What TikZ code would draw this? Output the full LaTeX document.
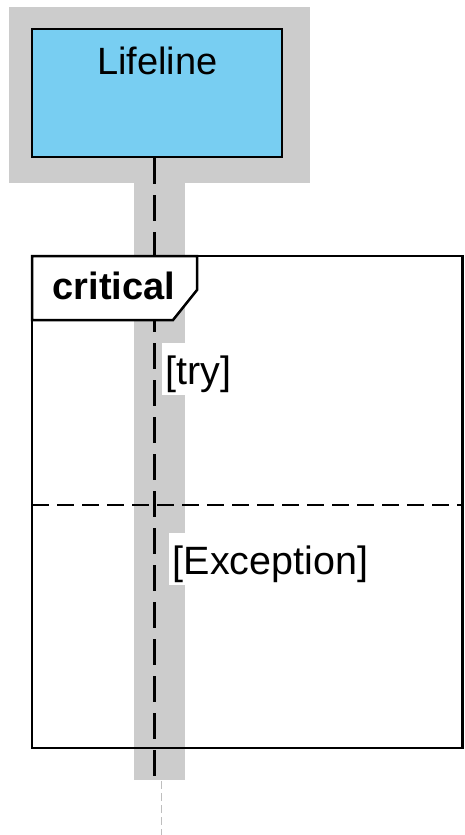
\documentclass[tikz,border=0pt]{standalone}
\usepackage{fontspec}
\setmainfont{Liberation Sans}
\definecolor{headgray}{RGB}{204,204,204}
\definecolor{lifeblue}{RGB}{120,206,242}
\definecolor{tailgray}{RGB}{190,190,190}
\begin{document}
\begin{tikzpicture}[x=1pt,y=-1pt,
  bigfont/.style={font=\fontsize{38}{44}\selectfont},
  headbox/.style={draw=black,line width=2.5pt,fill=lifeblue,minimum width=250pt,minimum height=128pt,inner sep=0pt},
  lifedash/.style={draw=black,line width=3pt,dash pattern=on 26pt off 11pt},
  framebox/.style={draw=black,line width=2.5pt},
  tagshape/.style={draw=black,line width=2.5pt,fill=white},
  guardlabel/.style={font=\fontsize{39.5}{44}\selectfont,fill=white,inner xsep=3.5pt,inner ysep=2pt,text height=39pt,text depth=9pt,anchor=base west},
  sepdash/.style={draw=black,line width=2.5pt,dash pattern=on 17pt off 8pt},
  taildash/.style={draw=tailgray,line width=1pt,dash pattern=on 8pt off 4pt}]
\useasboundingbox (0,0) rectangle (464,835);
% gray highlight behind head and stem
\fill[headgray] (9,7) rectangle (310,183);
\fill[headgray] (134,183) rectangle (185,780);
% lifeline head
\node[headbox] (head) at (157,93) {};
\node[bigfont,anchor=base] (headlabel) at (157.5,74) {Lifeline};
% lifeline
\coordinate (lifeend) at (154,780);
\coordinate (tailend) at (161,835);
\draw[lifedash] (head.south -| lifeend) -- (lifeend);
\coordinate (tailstart) at (161,781);
\draw[taildash] (tailstart) -- (tailend);
% frame
\draw[framebox] (32,256) rectangle (462.5,748);
\draw[tagshape] (32,256) -- (197,256) -- (197,290) -- (173,320) -- (32,320) -- cycle;
\node[bigfont,font=\fontsize{38}{44}\selectfont\bfseries,anchor=base] (tag) at (114,299) {critical};
% operand separator
\coordinate (sepL) at (32,505);
\coordinate (sepR) at (462.5,505);
\draw[sepdash] (sepL) -- (sepR);
% guards
\node[guardlabel] (try) at (162,384) {[try]};
\node[guardlabel] (exc) at (169,574) {[Exception]};
\end{tikzpicture}
\end{document}
